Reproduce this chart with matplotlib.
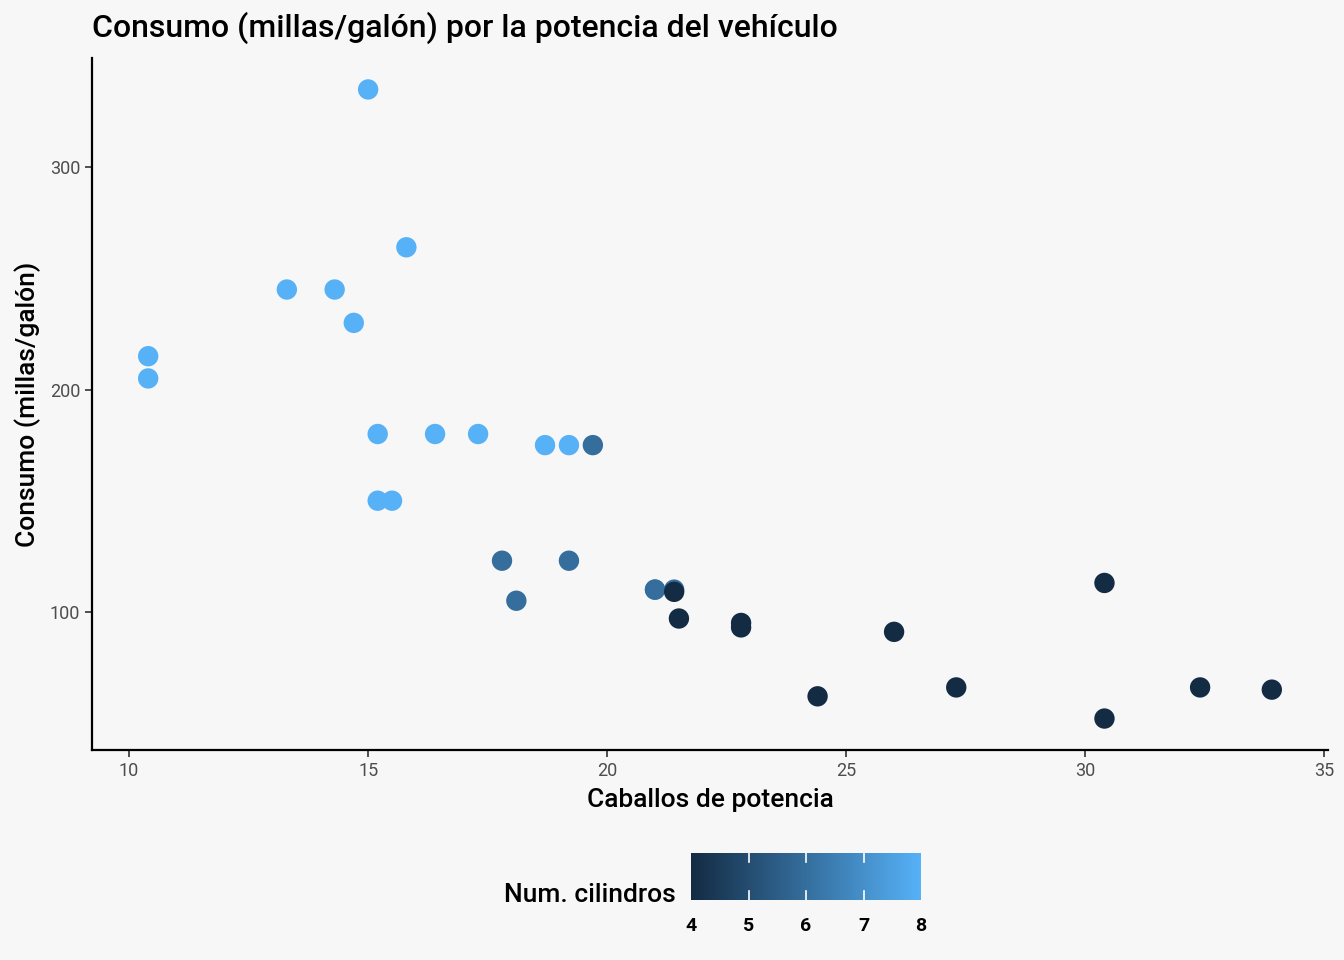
import numpy as np
import matplotlib
matplotlib.use("Agg")
import matplotlib.pyplot as plt
from matplotlib.colors import LinearSegmentedColormap, Normalize
from matplotlib.cm import ScalarMappable

plt.rcParams['font.family'] = ['Roboto', 'DejaVu Sans']

# mtcars
mpg = [21.0, 21.0, 22.8, 21.4, 18.7, 18.1, 14.3, 24.4, 22.8, 19.2, 17.8,
       16.4, 17.3, 15.2, 10.4, 10.4, 14.7, 32.4, 30.4, 33.9, 21.5, 15.5,
       15.2, 13.3, 19.2, 27.3, 26.0, 30.4, 15.8, 19.7, 15.0, 21.4]
hp = [110, 110, 93, 110, 175, 105, 245, 62, 95, 123, 123,
      180, 180, 180, 205, 215, 230, 66, 52, 65, 97, 150,
      150, 245, 175, 66, 91, 113, 264, 175, 335, 109]
cyl = [6, 6, 4, 6, 8, 6, 8, 4, 4, 6, 6,
       8, 8, 8, 8, 8, 8, 4, 4, 4, 4, 8,
       8, 8, 8, 4, 4, 4, 8, 6, 8, 4]

bg = '#F7F7F7'
cmap = LinearSegmentedColormap.from_list('gg', ['#132B43', '#56B1F7'])
norm = Normalize(4, 8)

fig = plt.figure(figsize=(13.44, 9.6), dpi=100, facecolor=bg)
ax = fig.add_axes([92/1344, 210/960, 1236/1344, 692/960], facecolor=bg)

ax.scatter(mpg, hp, c=cyl, cmap=cmap, norm=norm, s=215, linewidths=0, zorder=3)

xr = max(mpg) - min(mpg)
yr = max(hp) - min(hp)
ax.set_xlim(min(mpg) - 0.05*xr, max(mpg) + 0.05*xr)
ax.set_ylim(min(hp) - 0.05*yr, max(hp) + 0.05*yr)
ax.set_xticks([10, 15, 20, 25, 30, 35])
ax.set_yticks([100, 200, 300])

for s in ['top', 'right']:
    ax.spines[s].set_visible(False)
for s in ['left', 'bottom']:
    ax.spines[s].set_linewidth(1.6)
    ax.spines[s].set_color('black')
ax.tick_params(colors='#333333', labelcolor='#4D4D4D', labelsize=13, length=5, width=1.2)

ax.set_xlabel('Caballos de potencia', fontsize=19, fontweight='medium', labelpad=6)
ax.set_ylabel('Consumo (millas/galón)', fontsize=19, fontweight='medium', labelpad=6)
ax.set_title('Consumo (millas/galón) por la potencia del vehículo', fontsize=23,
             fontweight='medium', loc='left', x=0.0, pad=15)

cax = fig.add_axes([691/1344, 60/960, 230/1344, 47/960])
sm = ScalarMappable(norm=norm, cmap=cmap)
cb = fig.colorbar(sm, cax=cax, orientation='horizontal', ticks=[4, 5, 6, 7, 8])
cb.outline.set_visible(False)
cax.tick_params(length=0, labelsize=14, pad=12)
for lab in cax.get_xticklabels():
    lab.set_fontweight('bold')
for t in [5, 6, 7]:
    cax.plot([t, t], [0, 0.2], color='white', lw=1.2)
    cax.plot([t, t], [0.8, 1], color='white', lw=1.2)
fig.text(676/1344, (960 - 895)/960, 'Num. cilindros', fontsize=19, fontweight='medium',
         ha='right', va='center')

fig.savefig('out.png', dpi=100, facecolor=bg)
